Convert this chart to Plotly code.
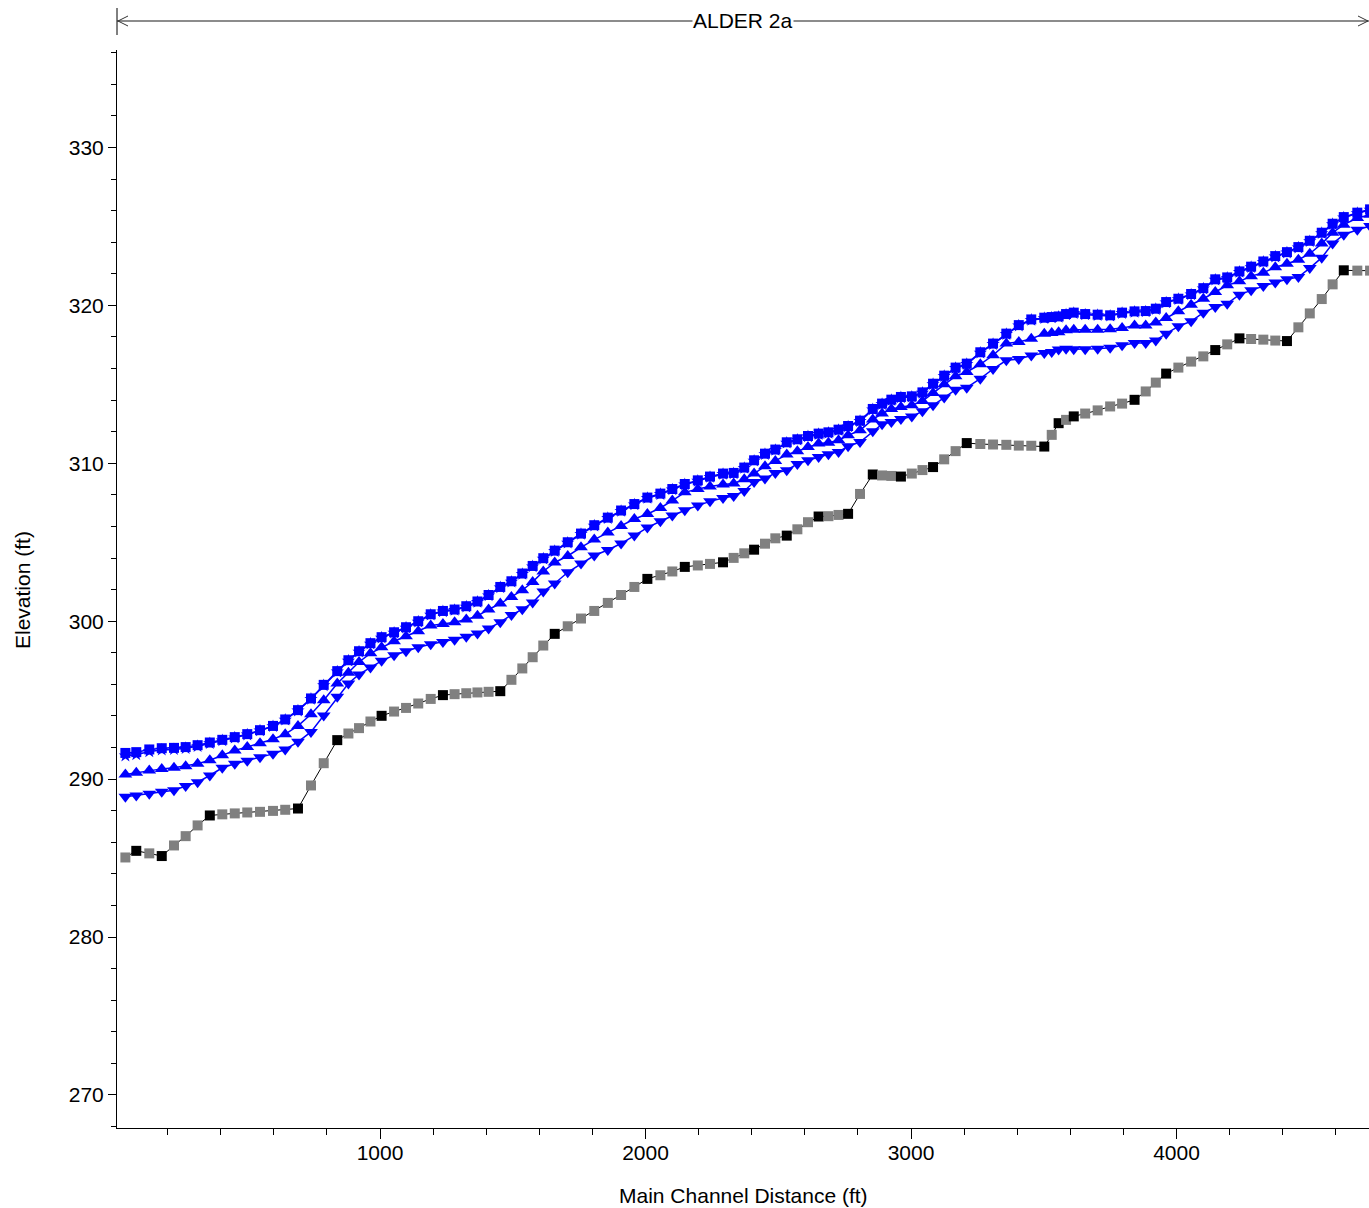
import plotly.graph_objects as go

# ---------------- data ----------------
station_ft = [41, 82, 131, 178, 224, 268, 313, 359, 406, 453,
              500, 548, 597, 643, 691, 740, 788, 839, 881, 921,
              964, 1006, 1053, 1098, 1144, 1191, 1237, 1281, 1325, 1367,
              1409, 1453, 1495, 1536, 1575, 1615, 1658, 1707, 1757, 1807,
              1858, 1908, 1958, 2007, 2056, 2101, 2148, 2197, 2243, 2292,
              2332, 2372, 2409, 2450, 2489, 2532, 2572, 2612, 2652, 2689,
              2727, 2763, 2808, 2856, 2891, 2926, 2962, 3003, 3043, 3083,
              3125, 3168, 3210, 3261, 3309, 3359, 3406, 3453, 3502, 3530,
              3556, 3584, 3613, 3656, 3703, 3750, 3795, 3842, 3884, 3922,
              3961, 4007, 4055, 4101, 4146, 4191, 4237, 4281, 4327, 4372,
              4416, 4459, 4502, 4547, 4588, 4630, 4681, 4729]

ground_ft = [285.04, 285.46, 285.30, 285.13, 285.80, 286.39, 287.07, 287.70, 287.77, 287.83,
             287.89, 287.93, 287.99, 288.06, 288.14, 289.60, 291.01, 292.47, 292.89, 293.23,
             293.65, 294.01, 294.28, 294.51, 294.79, 295.08, 295.32, 295.38, 295.44, 295.49,
             295.53, 295.57, 296.29, 297.01, 297.72, 298.46, 299.20, 299.68, 300.17, 300.65,
             301.16, 301.66, 302.17, 302.68, 302.91, 303.15, 303.44, 303.53, 303.63, 303.73,
             304.01, 304.30, 304.53, 304.91, 305.25, 305.42, 305.82, 306.27, 306.63, 306.65,
             306.73, 306.80, 308.06, 309.29, 309.23, 309.20, 309.16, 309.35, 309.57, 309.76,
             310.25, 310.77, 311.28, 311.22, 311.19, 311.17, 311.12, 311.11, 311.06, 311.80,
             312.54, 312.75, 312.97, 313.15, 313.35, 313.60, 313.78, 314.02, 314.55, 315.11,
             315.68, 316.06, 316.44, 316.77, 317.17, 317.53, 317.91, 317.87, 317.83, 317.77,
             317.74, 318.61, 319.49, 320.40, 321.33, 322.22, 322.20, 322.20]

# surveyed (non-interpolated) cross sections, 1-based station numbers
surveyed_stations = [2, 4, 8, 15, 18, 22, 27, 32, 37, 44, 47, 50, 53, 56, 59, 62, 64,
                     67, 70, 73, 79, 81, 83, 88, 91, 95, 97, 101, 106]

ws_square = [291.66, 291.71, 291.88, 291.96, 291.98, 292.03, 292.15, 292.32, 292.49, 292.66,
             292.85, 293.10, 293.37, 293.78, 294.37, 295.11, 295.97, 296.84, 297.53, 298.10,
             298.61, 298.99, 299.30, 299.62, 300.00, 300.44, 300.65, 300.74, 300.95, 301.25,
             301.66, 302.17, 302.53, 303.02, 303.50, 303.99, 304.47, 305.00, 305.55, 306.08,
             306.56, 307.01, 307.42, 307.83, 308.08, 308.37, 308.69, 308.92, 309.16, 309.35,
             309.39, 309.73, 310.19, 310.61, 310.87, 311.33, 311.52, 311.73, 311.88, 311.96,
             312.13, 312.36, 312.70, 313.44, 313.78, 314.03, 314.20, 314.24, 314.49, 315.04,
             315.55, 316.06, 316.31, 317.03, 317.58, 318.21, 318.75, 319.11, 319.22, 319.26,
             319.30, 319.45, 319.54, 319.45, 319.41, 319.37, 319.54, 319.62, 319.64, 319.79,
             320.21, 320.42, 320.72, 321.09, 321.65, 321.77, 322.15, 322.45, 322.78, 323.12,
             323.37, 323.69, 324.09, 324.60, 325.17, 325.59, 325.87, 326.08]

ws_star = [291.48, 291.55, 291.75, 291.85, 291.88, 291.95, 292.08, 292.26, 292.44, 292.62,
           292.81, 293.07, 293.34, 293.75, 294.33, 295.07, 295.93, 296.80, 297.49, 298.06,
           298.57, 298.95, 299.26, 299.58, 299.96, 300.40, 300.61, 300.70, 300.91, 301.21,
           301.62, 302.13, 302.49, 302.98, 303.46, 303.95, 304.43, 304.96, 305.51, 306.04,
           306.52, 306.97, 307.38, 307.79, 308.04, 308.33, 308.65, 308.88, 309.12, 309.31,
           309.35, 309.69, 310.15, 310.57, 310.83, 311.29, 311.48, 311.69, 311.84, 311.92,
           312.09, 312.32, 312.66, 313.40, 313.74, 313.99, 314.16, 314.20, 314.45, 315.00,
           315.51, 316.02, 316.27, 316.99, 317.54, 318.17, 318.71, 319.07, 319.18, 319.22,
           319.26, 319.41, 319.50, 319.41, 319.37, 319.33, 319.50, 319.58, 319.60, 319.75,
           320.17, 320.38, 320.68, 321.05, 321.61, 321.73, 322.11, 322.41, 322.74, 323.08,
           323.33, 323.65, 324.05, 324.56, 325.13, 325.55, 325.83, 326.04]

ws_tri_up = [290.30, 290.40, 290.55, 290.65, 290.72, 290.82, 290.97, 291.20, 291.52, 291.82,
             292.04, 292.28, 292.53, 292.85, 293.37, 294.11, 295.00, 296.06, 296.73, 297.42,
             297.97, 298.35, 298.73, 299.05, 299.37, 299.73, 299.83, 299.94, 300.11, 300.34,
             300.74, 301.12, 301.54, 301.96, 302.49, 303.15, 303.72, 304.13, 304.68, 305.17,
             305.61, 306.03, 306.47, 306.79, 307.17, 307.64, 308.16, 308.37, 308.53, 308.65,
             308.72, 308.99, 309.35, 309.81, 310.15, 310.55, 310.76, 311.03, 311.25, 311.30,
             311.46, 311.77, 312.09, 312.78, 313.15, 313.44, 313.56, 313.67, 313.94, 314.45,
             315.00, 315.51, 315.78, 316.27, 316.84, 317.58, 317.68, 317.89, 318.21, 318.25,
             318.29, 318.42, 318.46, 318.46, 318.46, 318.48, 318.56, 318.73, 318.73, 318.91,
             319.20, 319.62, 320.04, 320.42, 320.84, 321.27, 321.52, 321.85, 322.07, 322.41,
             322.64, 322.89, 323.27, 323.91, 324.60, 325.11, 325.53, 325.74]

ws_tri_down = [288.88, 288.97, 289.07, 289.20, 289.30, 289.56, 289.81, 290.23, 290.72, 290.97,
               291.16, 291.39, 291.60, 291.88, 292.36, 292.99, 294.03, 295.21, 296.06, 296.63,
               297.07, 297.49, 297.85, 298.10, 298.35, 298.54, 298.69, 298.82, 299.01, 299.22,
               299.54, 299.94, 300.40, 300.75, 301.18, 301.88, 302.39, 303.10, 303.65, 304.16,
               304.51, 304.92, 305.42, 305.93, 306.33, 306.69, 307.03, 307.32, 307.59, 307.80,
               307.93, 308.25, 308.82, 309.03, 309.39, 309.56, 309.96, 310.19, 310.40, 310.57,
               310.72, 311.08, 311.35, 312.03, 312.47, 312.61, 312.80, 312.97, 313.29, 313.67,
               314.16, 314.66, 314.79, 315.36, 315.97, 316.52, 316.60, 316.82, 316.98, 317.04,
               317.20, 317.26, 317.22, 317.22, 317.26, 317.32, 317.47, 317.61, 317.61, 317.78,
               318.21, 318.67, 318.99, 319.54, 319.89, 320.11, 320.68, 320.95, 321.22, 321.44,
               321.65, 321.79, 322.36, 323.02, 323.91, 324.47, 324.79, 325.02]

reach_label = "ALDER 2a"
x_title = "Main Channel Distance (ft)"
y_title = "Elevation (ft)"

# ---------------- figure ----------------
W, H = 1369, 1208
ML, MR, MT, MB = 117, 0, 50, 80
PW, PH = W - ML - MR, H - MT - MB
FONT = "Liberation Sans, Arial, sans-serif"
FS = 21
BLUE = "#0000FF"


def px(xp):
    return (xp - ML) / PW


def py(yp):
    return (H - MB - yp) / PH


fig = go.Figure()

fig.add_trace(go.Scatter(x=station_ft, y=ws_tri_down, mode="lines+markers",
                         line=dict(color=BLUE, width=1.5),
                         marker=dict(symbol="triangle-down", size=12, color=BLUE, line=dict(width=0)),
                         showlegend=False))
fig.add_trace(go.Scatter(x=station_ft, y=ws_tri_up, mode="lines+markers",
                         line=dict(color=BLUE, width=1.5),
                         marker=dict(symbol="triangle-up", size=12, color=BLUE, line=dict(width=0)),
                         showlegend=False))
fig.add_trace(go.Scatter(x=station_ft, y=ws_star, mode="lines+markers",
                         line=dict(color=BLUE, width=1.5),
                         marker=dict(symbol="star", size=10, color=BLUE, line=dict(width=0)),
                         showlegend=False))
fig.add_trace(go.Scatter(x=station_ft, y=ws_square, mode="lines+markers",
                         line=dict(color=BLUE, width=1.5),
                         marker=dict(symbol="square", size=10, color=BLUE, line=dict(width=0)),
                         showlegend=False))

ground_colors = ["#000000" if (i + 1) in surveyed_stations else "#808080"
                 for i in range(len(station_ft))]
fig.add_trace(go.Scatter(x=station_ft, y=ground_ft, mode="lines+markers",
                         line=dict(color="#000000", width=1),
                         marker=dict(symbol="square", size=10, color=ground_colors, line=dict(width=0)),
                         showlegend=False))

axis_common = dict(showline=True, linecolor="black", linewidth=1, showgrid=False,
                   zeroline=False, ticks="outside", tickcolor="black",
                   tickfont=dict(family=FONT, size=FS, color="black"))

fig.update_xaxes(range=[9.4, 4725], tick0=0, dtick=1000, ticklen=10, ticklabelstandoff=-4,
                 minor=dict(dtick=200, tick0=0, ticks="outside", ticklen=6, tickcolor="black"),
                 **axis_common)
fig.update_yaxes(range=[267.91, 336.17], tick0=0, dtick=10, ticklen=8,
                 minor=dict(dtick=2, tick0=0, ticks="outside", ticklen=5, tickcolor="black"),
                 **axis_common)

# reach extent bar at top
bar_y = py(21)
shapes = [
    dict(type="line", xref="paper", yref="paper", x0=0, x1=1, y0=bar_y, y1=bar_y,
         line=dict(color="#666666", width=1.5)),
    dict(type="line", xref="paper", yref="paper", x0=0, x1=0, y0=py(8), y1=py(35),
         line=dict(color="black", width=1)),
    dict(type="path", xref="paper", yref="paper",
         path=f"M {px(128)} {py(16)} L {px(118)} {py(21)} L {px(128)} {py(26)}",
         line=dict(color="#333333", width=1)),
    dict(type="path", xref="paper", yref="paper",
         path=f"M {px(1358)} {py(16)} L {px(1368)} {py(21)} L {px(1358)} {py(26)}",
         line=dict(color="#333333", width=1)),
]

annotations = [
    dict(text=reach_label, xref="paper", yref="paper", x=px(743), y=bar_y,
         xanchor="center", yanchor="middle", showarrow=False, bgcolor="white",
         borderpad=0, font=dict(family=FONT, size=FS, color="black")),
    dict(text=x_title, xref="paper", yref="paper", x=px(743), y=py(1195),
         xanchor="center", yanchor="middle", showarrow=False,
         font=dict(family=FONT, size=FS, color="black")),
    dict(text=y_title, xref="paper", yref="paper", x=px(22), y=py(590),
         xanchor="center", yanchor="middle", showarrow=False, textangle=-90,
         font=dict(family=FONT, size=FS, color="black")),
]

fig.update_layout(width=W, height=H, margin=dict(l=ML, r=MR, t=MT, b=MB),
                  paper_bgcolor="white", plot_bgcolor="white",
                  shapes=shapes, annotations=annotations, showlegend=False)

fig.write_html("out.html")
